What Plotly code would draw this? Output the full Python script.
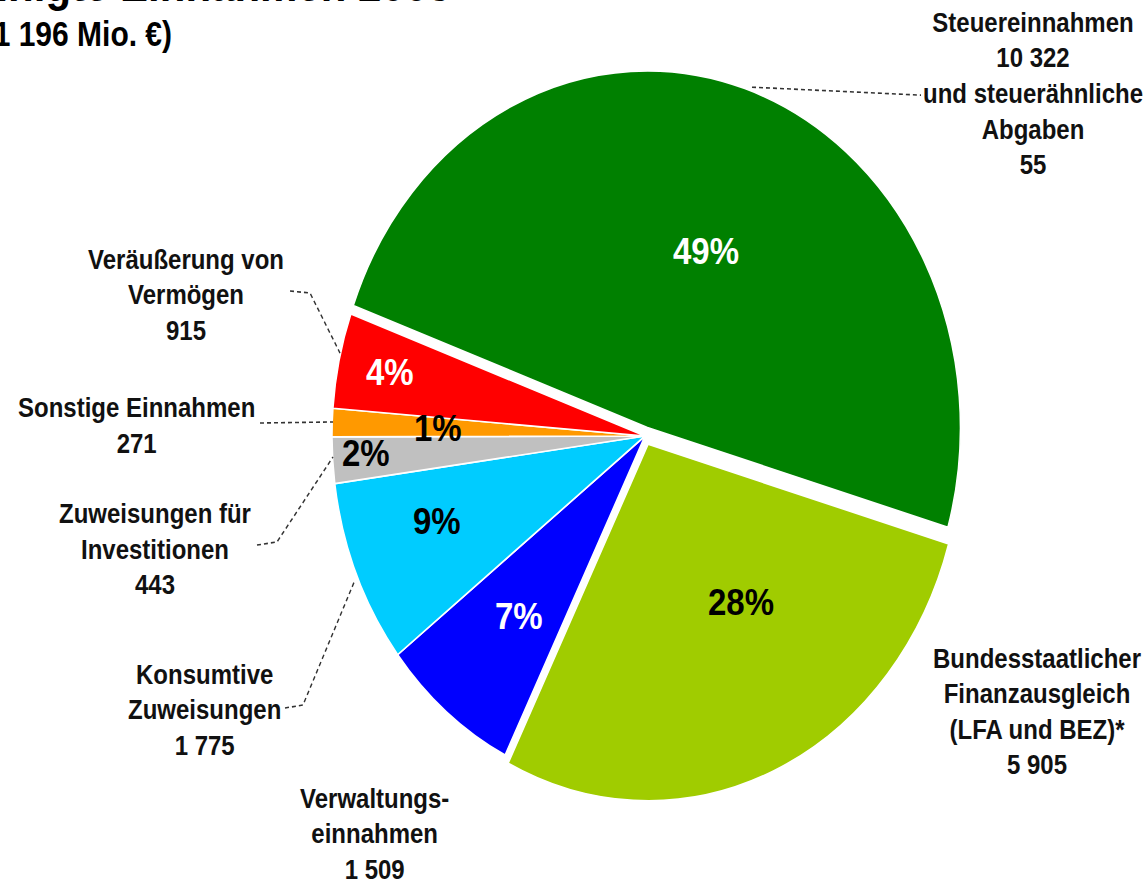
import plotly.graph_objects as go

# ---------------- data ----------------
categories = [
    "Steuereinnahmen und steuerähnliche Abgaben",
    "Bundesstaatlicher Finanzausgleich (LFA und BEZ)*",
    "Verwaltungseinnahmen",
    "Konsumtive Zuweisungen",
    "Zuweisungen für Investitionen",
    "Sonstige Einnahmen",
    "Veräußerung von Vermögen",
]
steuer_parts = [10322, 55]          # Steuereinnahmen, steuerähnliche Abgaben
values = [sum(steuer_parts), 5905, 1509, 1775, 443, 271, 915]
pct_labels = ["49%", "28%", "7%", "9%", "2%", "1%", "4%"]
name_lines = [
    None,
    ["Bundesstaatlicher", "Finanzausgleich", "(LFA und BEZ)*"],
    ["Verwaltungs-", "einnahmen"],
    ["Konsumtive", "Zuweisungen"],
    ["Zuweisungen für", "Investitionen"],
    ["Sonstige Einnahmen"],
    ["Veräußerung von", "Vermögen"],
]
title_line1 = "Bereinigte Einnahmen 2005"
total_reported = 21196               # total as printed in the title (Mio. €)

# ---------------- styles ----------------
colors = ["#008000", "#A0CC00", "#0000FF", "#00CCFF", "#C0C0C0", "#FF9900", "#FF0000"]
pct_colors = ["white", "black", "white", "black", "black", "black", "white"]
FONT = "Liberation Sans, Arial, sans-serif"

W, H_SHOWN = 1145, 882
H = 774                      # drawing height, stretched vertically to 882
SY = H_SHOWN / H


def fmt(v):
    return f"{v:,}".replace(",", " ")


def px(x, y):
    return x / W, 1 - y / H


# pie geometry (pixels in drawing space)
CX, CY, R = 645, 382.6, 313
pulls = [0.025, 0.025, 0, 0, 0, 0, 0]
half = R * (1 + max(pulls))

fig = go.Figure(
    go.Pie(
        labels=categories,
        values=values,
        sort=False,
        direction="clockwise",
        rotation=-70,
        pull=pulls,
        marker=dict(colors=colors, line=dict(color="white", width=1.5)),
        textinfo="none",
        showlegend=False,
        domain=dict(
            x=[(CX - half) / W, (CX + half) / W],
            y=[1 - (CY + half) / H, 1 - (CY - half) / H],
        ),
    )
)

# callout texts built from the data
callout_texts = []
for i, lines in enumerate(name_lines):
    if i == 0:
        t = ["Steuereinnahmen", fmt(steuer_parts[0]), "und steuerähnliche",
             "Abgaben", fmt(steuer_parts[1])]
    else:
        t = lines + [fmt(values[i])]
    callout_texts.append("<br>".join(t))

callout_pos = [(1033, 82.5), (1037, 624.8), (374.5, 731), (204, 622.2),
               (155, 481), (136, 372.5), (186, 258.9)]
pct_pos = [(705.5, 220), (740.8, 528.7), (519, 540.4), (436.7, 457.8),
           (365.8, 397.1), (437.5, 375.2), (390, 326.9)]

annotations = []
for txt, (x, y) in zip(callout_texts, callout_pos):
    ax, ay = px(x, y)
    annotations.append(dict(
        text=txt, x=ax, y=ay, xref="paper", yref="paper",
        xanchor="center", yanchor="middle", align="center", showarrow=False,
        font=dict(family=FONT, size=24, color="#111111", weight="bold"),
    ))
for txt, col, (x, y) in zip(pct_labels, pct_colors, pct_pos):
    ax, ay = px(x, y)
    annotations.append(dict(
        text=txt, x=ax, y=ay, xref="paper", yref="paper",
        xanchor="center", yanchor="middle", showarrow=False,
        font=dict(family=FONT, size=33, color=col, weight="bold"),
    ))

# cropped title (original image is cut at top/left)
tx, ty = px(454, 12.5)
annotations.append(dict(
    text=title_line1, x=tx, y=ty, xref="paper", yref="paper",
    xanchor="right", yanchor="bottom", showarrow=False,
    font=dict(family=FONT, size=42, color="black", weight="bold"),
))
tx, ty = px(174, 29)
annotations.append(dict(
    text=f"({fmt(total_reported)} Mio. €)", x=tx, y=ty, xref="paper", yref="paper",
    xanchor="right", yanchor="middle", showarrow=False,
    font=dict(family=FONT, size=30, color="black", weight="bold"),
))

# dashed leader lines
leaders = [
    [(752, 76.5), (921, 83.5)],
    [(290, 255.4), (310, 257.1), (340, 309.8)],
    [(260, 371.2), (333, 370.3)],
    [(257, 478.3), (277, 475.6), (333, 401)],
    [(285, 621.3), (303, 618.7), (355, 509)],
]
shapes = []
for pts in leaders:
    p = [px(x, y) for x, y in pts]
    path = "M " + " L ".join(f"{a:.5f},{b:.5f}" for a, b in p)
    shapes.append(dict(type="path", path=path, xref="paper", yref="paper",
                       line=dict(color="#333333", width=1.4, dash="4px,3px")))

fig.update_layout(
    width=W, height=H,
    margin=dict(l=0, r=0, t=0, b=0),
    paper_bgcolor="white", plot_bgcolor="white",
    annotations=annotations, shapes=shapes,
    font=dict(family=FONT),
)

stretch_js = (
    "var gd=document.getElementById('{plot_id}');"
    "document.body.style.margin='0';"
    "document.documentElement.style.overflow='hidden';"
    "gd.style.transformOrigin='0 0';"
    f"gd.style.transform='scaleY({SY:.5f})';"
)
fig.write_html("out.html", post_script=stretch_js,
               config={"displayModeBar": False})
